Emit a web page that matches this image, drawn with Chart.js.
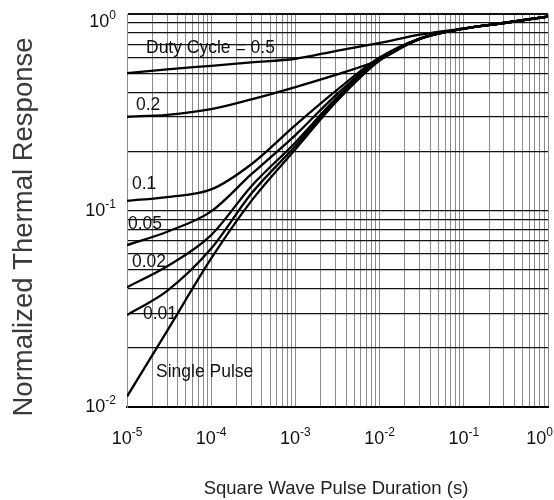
<!DOCTYPE html>
<html>
<head>
<meta charset="utf-8">
<script src="https://cdn.jsdelivr.net/npm/chart.js@4.4.1/dist/chart.umd.min.js"></script>
<style>
  html, body { margin: 0; padding: 0; background: #fff; }
  #wrap { width: 554px; height: 500px; }
</style>
</head>
<body>
<div id="wrap"><canvas id="thermalChart" width="554" height="500"></canvas></div>
<script>
// pulse duration (s)
const durations = [1e-5, 3e-5, 1e-4, 3e-4, 1e-3, 3e-3, 1e-2, 3e-2, 1e-1, 3e-1, 1];

// normalized thermal response per duty cycle
const duty05 = [0.50, 0.523, 0.545, 0.567, 0.592, 0.648, 0.712, 0.785, 0.845, 0.90, 0.97];
const duty02 = [0.30, 0.307, 0.328, 0.368, 0.425, 0.49, 0.585, 0.75, 0.843, 0.90, 0.97];
const duty01 = [0.112, 0.117, 0.128, 0.172, 0.272, 0.405, 0.60, 0.75, 0.843, 0.90, 0.97];
const duty005 = [0.0667, 0.078, 0.099, 0.153, 0.242, 0.385, 0.593, 0.75, 0.843, 0.90, 0.97];
const duty002 = [0.0407, 0.052, 0.075, 0.133, 0.222, 0.37, 0.587, 0.748, 0.843, 0.90, 0.97];
const duty001 = [0.0294, 0.039, 0.064, 0.122, 0.213, 0.362, 0.583, 0.746, 0.843, 0.90, 0.97];
const singlePulse = [0.0113, 0.0244, 0.057, 0.112, 0.205, 0.355, 0.58, 0.745, 0.843, 0.90, 0.97];

const seriesNames = ["Duty Cycle = 0.5", "0.2", "0.1", "0.05", "0.02", "0.01", "Single Pulse"];
const seriesValues = [duty05, duty02, duty01, duty005, duty002, duty001, singlePulse];

// axis decades (exponents)
const xDecades = [-5, -4, -3, -2, -1, 0];
const yDecades = [-2, -1, 0];

// where the curve names sit, offset from plot top-left (px)
const nameSpots = [[19, 39], [9, 96], [5, 175], [1, 215], [5, 253], [16, 305], [29, 363]];

const FONT = "'Liberation Sans', Arial, sans-serif";
const chartWidth = 554;

function decadeTicks(exps) {
  const out = [];
  for (let i = 0; i < exps.length; i++) {
    const base = Math.pow(10, exps[i]);
    if (i === exps.length - 1) { out.push({ value: base }); break; }
    for (let m = 1; m <= 9; m++) out.push({ value: +(m * base).toPrecision(3) });
  }
  return out;
}

// "10" with a raised exponent
function drawPower(ctx, exp, x, baseline, align) {
  const exText = exp < 0 ? "-" + Math.abs(exp) : String(exp);
  ctx.font = "18px " + FONT;
  const wBase = ctx.measureText("10").width;
  ctx.font = "12px " + FONT;
  const wExp = ctx.measureText(exText).width;
  const total = wBase + wExp;
  let left = align === "right" ? x - total : x - total / 2;
  if (left + total > chartWidth - 1) left = chartWidth - 1 - total;
  ctx.textAlign = "left";
  ctx.textBaseline = "alphabetic";
  ctx.font = "18px " + FONT;
  ctx.fillText("10", left, baseline);
  ctx.font = "12px " + FONT;
  ctx.fillText(exText, left + wBase, baseline - 8);
}

const textLayer = {
  id: "textLayer",
  afterDraw(chart) {
    const { ctx, chartArea, scales } = chart;
    ctx.save();
    ctx.fillStyle = "#111";

    xDecades.forEach((e) => {
      const px = scales.x.getPixelForValue(Math.pow(10, e));
      drawPower(ctx, e, px, chartArea.bottom + 37, "center");
    });
    yDecades.forEach((e) => {
      const py = scales.y.getPixelForValue(Math.pow(10, e));
      const base = Math.max(py + 5, chartArea.top + 13);
      drawPower(ctx, e, chartArea.left - 11, base, "right");
    });

    ctx.font = "17.5px " + FONT;
    ctx.textAlign = "left";
    ctx.textBaseline = "alphabetic";
    seriesNames.forEach((name, i) => {
      ctx.fillText(name, chartArea.left + nameSpots[i][0], chartArea.top + nameSpots[i][1]);
    });

    // axis titles
    ctx.fillStyle = "#222";
    ctx.font = "18.5px " + FONT;
    ctx.textAlign = "center";
    ctx.fillText("Square Wave Pulse Duration (s)", 336, chartArea.bottom + 87);

    ctx.fillStyle = "#3a3a3a";
    ctx.font = "27.5px " + FONT;
    ctx.translate(32, 227);
    ctx.rotate(-Math.PI / 2);
    ctx.fillText("Normalized Thermal Response", 0, 0);
    ctx.restore();
  }
};

const datasets = seriesValues.map((vals, i) => ({
  label: seriesNames[i],
  data: durations.map((d, j) => ({ x: d, y: vals[j] })),
  borderColor: "#000",
  borderWidth: 2.3,
  pointRadius: 0,
  fill: false,
  cubicInterpolationMode: "monotone"
}));

new Chart(document.getElementById("thermalChart"), {
  type: "line",
  data: { datasets },
  options: {
    responsive: false,
    animation: false,
    layout: { padding: { left: 127, right: 6, top: 14, bottom: 93 } },
    plugins: { legend: { display: false }, tooltip: { enabled: false } },
    scales: {
      x: {
        type: "logarithmic",
        min: 1e-5,
        max: 1,
        afterBuildTicks: (scale) => { scale.ticks = decadeTicks(xDecades); },
        ticks: { display: false },
        grid: { drawTicks: false, color: "#8c8c8c", lineWidth: 1 },
        border: { display: true, color: "#000", width: 2 }
      },
      y: {
        type: "logarithmic",
        min: 0.01,
        max: 1,
        afterBuildTicks: (scale) => { scale.ticks = decadeTicks(yDecades); },
        ticks: { display: false },
        grid: {
          drawTicks: false,
          color: "#111",
          lineWidth: (c) => (c.tick && (c.tick.value === 1 || c.tick.value === 0.01) ? 2 : 1.2)
        },
        border: { display: true, color: "#8c8c8c", width: 1 }
      }
    }
  },
  plugins: [textLayer]
});
</script>
</body>
</html>
